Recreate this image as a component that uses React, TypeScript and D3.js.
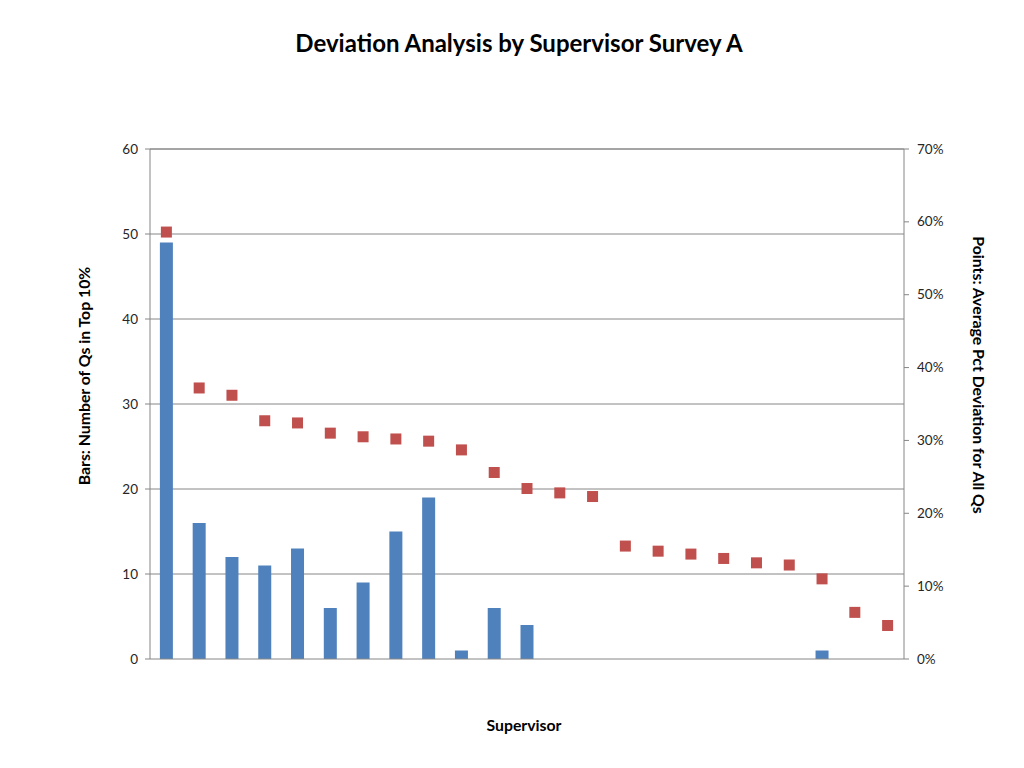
import React from "react";
import * as d3 from "d3";

const categories: string[] = Array.from({ length: 23 }, (_, i) => `S${i + 1}`);
const barValues: number[] = [49, 16, 12, 11, 13, 6, 9, 15, 19, 1, 6, 4, 0, 0, 0, 0, 0, 0, 0, 0, 1, 0, 0];
const pointValues: number[] = [
  58.6, 37.2, 36.2, 32.7, 32.4, 31.0, 30.5, 30.2, 29.9, 28.7, 25.6, 23.4, 22.8, 22.3,
  15.5, 14.8, 14.4, 13.8, 13.2, 12.9, 11.0, 6.4, 4.6,
];
const leftTicks: number[] = [0, 10, 20, 30, 40, 50, 60];
const rightTicks: number[] = [0, 10, 20, 30, 40, 50, 60, 70];

const W = 1024;
const H = 768;
const left = 150;
const right = 904;
const top = 149;
const bottom = 659;
const FONT = "Lato, 'Open Sans', sans-serif";

export default function App() {
  const x = d3.scaleBand<string>().domain(categories).range([left, right]).paddingInner(0).paddingOuter(0);
  const yL = d3.scaleLinear().domain([0, 60]).range([bottom, top]);
  const yR = d3.scaleLinear().domain([0, 70]).range([bottom, top]);
  const barW = 13;
  const mk = 11;
  const grid = "#868686";

  return (
    <svg width={W} height={H} style={{ position: "absolute", left: 0, top: 0, background: "#fff" }}>
      <text x={519} y={52} textAnchor="middle" fontFamily={FONT} fontWeight="bold" fontSize={24} fill="#000">
        Deviation Analysis by Supervisor Survey A
      </text>
      {leftTicks.map((t) => (
        <g key={"l" + t}>
          {t > 0 && <line x1={left} x2={right} y1={yL(t)} y2={yL(t)} stroke={grid} strokeWidth={1} />}
          <line x1={left - 5} x2={left} y1={yL(t)} y2={yL(t)} stroke={grid} strokeWidth={1} />
          <text x={138} y={yL(t) + 4.5} textAnchor="end" fontFamily={FONT} fontSize={13.5} fill="#262626">
            {t}
          </text>
        </g>
      ))}
      {rightTicks.map((t) => (
        <g key={"r" + t}>
          <line x1={right} x2={right + 5} y1={yR(t)} y2={yR(t)} stroke={grid} strokeWidth={1} />
          <text x={917} y={yR(t) + 4.5} textAnchor="start" fontFamily={FONT} fontSize={13.5} fill="#262626">
            {t}%
          </text>
        </g>
      ))}
      <line x1={left} x2={right} y1={top} y2={top} stroke={grid} strokeWidth={1} />
      <line x1={left} x2={left} y1={top} y2={bottom} stroke={grid} strokeWidth={1} />
      <line x1={right} x2={right} y1={top} y2={bottom} stroke={grid} strokeWidth={1} />
      {categories.map((c, i) =>
        barValues[i] > 0 ? (
          <rect
            key={"b" + c}
            x={(x(c) as number) + x.bandwidth() / 2 - barW / 2}
            y={yL(barValues[i])}
            width={barW}
            height={bottom - yL(barValues[i])}
            fill="#4F81BD"
          />
        ) : null
      )}
      <line x1={left} x2={right} y1={bottom} y2={bottom} stroke={grid} strokeWidth={1} />
      {categories.map((c, i) => (
        <rect
          key={"p" + c}
          x={(x(c) as number) + x.bandwidth() / 2 - mk / 2}
          y={yR(pointValues[i]) - mk / 2}
          width={mk}
          height={mk}
          fill="#C0504D"
        />
      ))}
      <text
        transform={`translate(90,376) rotate(-90)`}
        textAnchor="middle"
        fontFamily={FONT}
        fontWeight="bold"
        fontSize={15.8}
        fill="#000"
      >
        Bars: Number of Qs in Top 10%
      </text>
      <text
        transform={`translate(973,375) rotate(90)`}
        textAnchor="middle"
        fontFamily={FONT}
        fontWeight="bold"
        fontSize={15.8}
        fill="#000"
      >
        Points: Average Pct Deviation for All Qs
      </text>
      <text x={524} y={731} textAnchor="middle" fontFamily={FONT} fontWeight="bold" fontSize={15.8} fill="#000">
        Supervisor
      </text>
    </svg>
  );
}
